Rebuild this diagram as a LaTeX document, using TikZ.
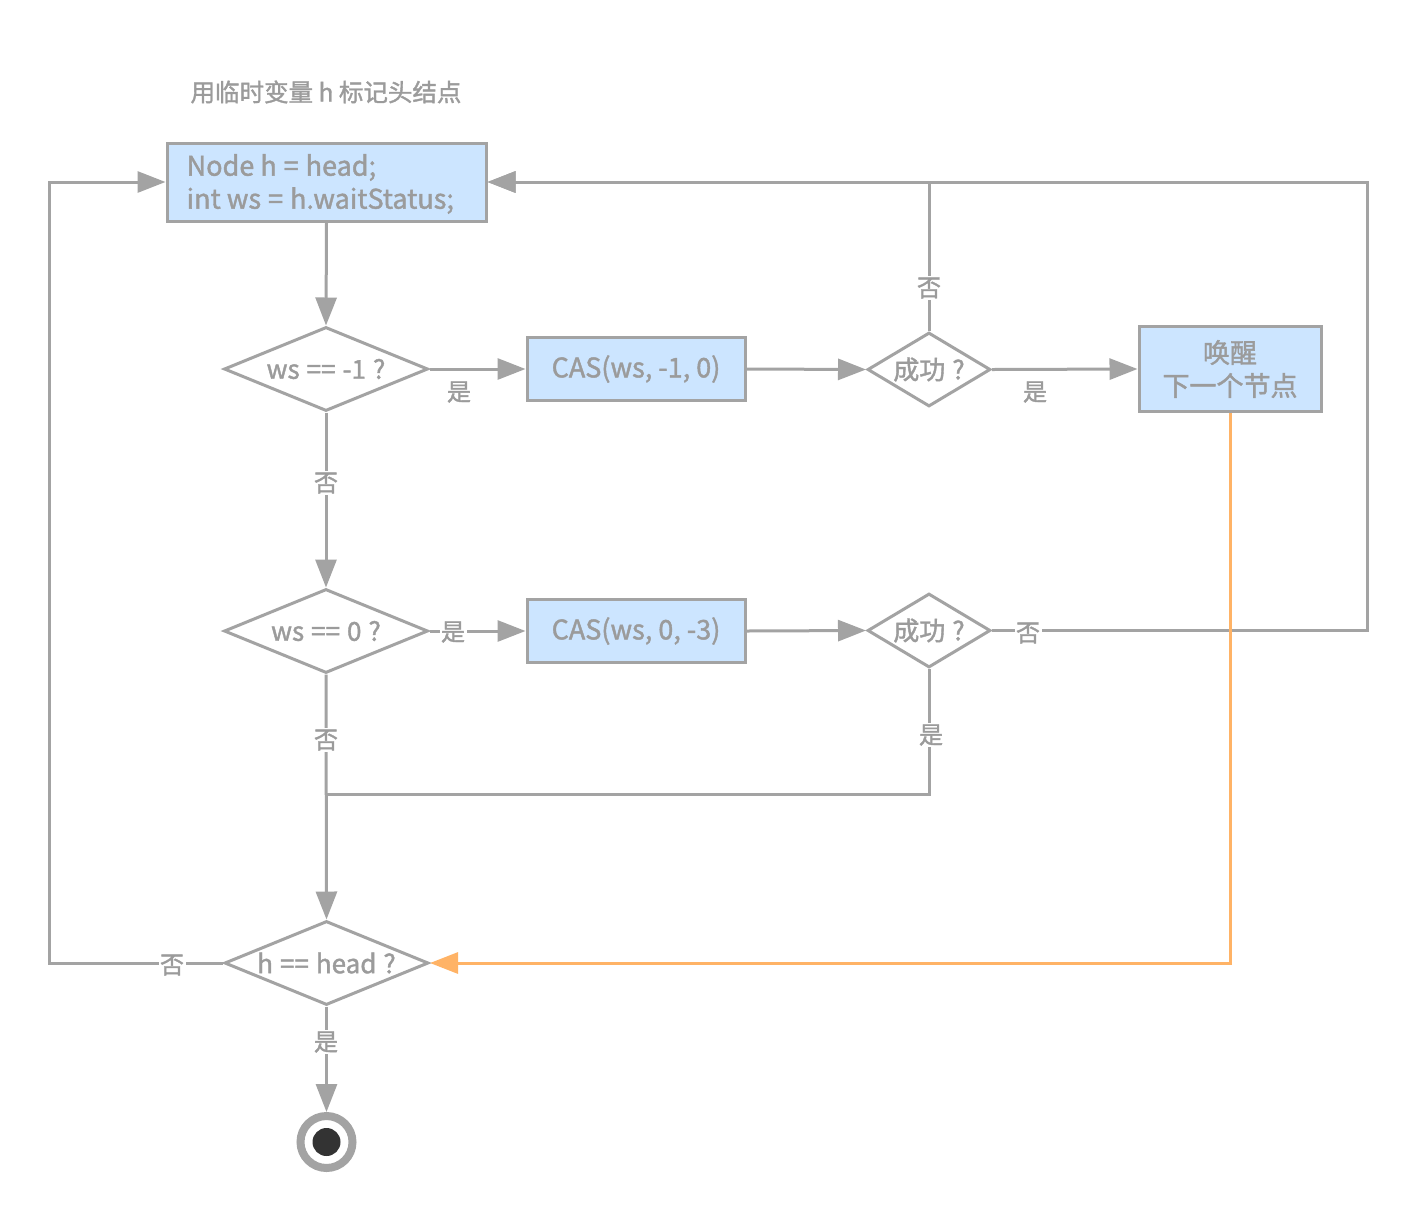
\documentclass[tikz,border=0pt]{standalone}
\usepackage{fontspec}
\setmainfont{Noto Sans CJK SC}[UprightFeatures={FakeBold=1.5}]
\usetikzlibrary{shapes.geometric,arrows.meta}
\definecolor{ln}{HTML}{A3A3A3}
\definecolor{tx}{HTML}{9B9B9B}
\definecolor{bx}{HTML}{CCE5FF}
\definecolor{og}{HTML}{FFB366}
\definecolor{dotc}{HTML}{333333}
\newcommand{\gp}{\hspace{7pt}}
\tikzset{
  boxn/.style={draw=ln, line width=3pt, fill=bx, text=tx, inner sep=0pt, align=center,
    font=\fontsize{27}{33}\selectfont},
  dia/.style={diamond, draw=ln, line width=3pt, fill=white, inner sep=0pt,
    minimum width=204pt, minimum height=84pt},
  sdia/.style={diamond, draw=ln, line width=3pt, fill=white, inner sep=0pt,
    minimum width=123pt, minimum height=74pt},
  dtext/.style={text=tx, inner sep=0pt, font=\fontsize{26}{26}\selectfont},
  lbl/.style={fill=white, text=tx, inner sep=1.5pt, font=\fontsize{24}{24}\selectfont},
  conn/.style={draw=ln, line width=3pt},
  arr/.style={conn, -{Triangle[length=28pt,width=21pt]}},
  oarr/.style={draw=og, line width=3pt, -{Triangle[length=28pt,width=21pt]}},
}
\begin{document}
\begin{tikzpicture}[x=1pt,y=-1pt]
\useasboundingbox (0,0) rectangle (1416,1219);
\fill[white] (0,0) rectangle (1416,1219);

\node[text=tx, font=\fontsize{24.5}{24.5}\selectfont] (cap) at (326,92) {用临时变量 h 标记头结点};

\node[boxn, minimum width=319pt, minimum height=78pt,
  label={[text=tx, align=left, anchor=west, xshift=21pt, yshift=-2pt, inner sep=0pt,
  font=\fontsize{27}{33}\selectfont]west:{Node h\gp=\gp head;\\int ws\gp=\gp h.waitStatus;}}] (b1) at (326.5,182) {};

\node[dia, label={[dtext]center:ws\gp==\gp-1\gp?}] (d1) at (326,369) {};
\node[boxn, minimum width=218pt, minimum height=63pt] (c1) at (636,369) {CAS(ws, -1, 0)};
\node[sdia, label={[dtext]center:成功\gp?}] (s1) at (929,369.5) {};
\node[boxn, minimum width=182pt, minimum height=85pt] (w1) at (1230,369) {唤醒\\下一个节点};

\node[dia, label={[dtext]center:ws\gp==\gp0\gp?}] (d2) at (326,631) {};
\node[boxn, minimum width=218pt, minimum height=63pt] (c2) at (636,631) {CAS(ws, 0, -3)};
\node[sdia, label={[dtext]center:成功\gp?}] (s2) at (929,630.5) {};

\node[dia, label={[dtext]center:h\gp==\gp head\gp?}] (d3) at (326.5,963) {};

\node[circle, draw=ln, line width=8pt, fill=white, minimum size=52pt, inner sep=0pt] (e) at (326.5,1142) {};
\node[circle, fill=dotc, minimum size=28pt, inner sep=0pt] (e2) at (e.center) {};

\coordinate (rr) at (1367,182);
\coordinate (ll) at (49,182);
\coordinate (mm) at (326,794);

\draw[arr] (b1.south) -- (d1.north);
\draw[arr] (d1.east) -- (c1.west);
\draw[arr] (c1.east) -- (s1.west);
\draw[arr] (s1.east) -- (w1.west);
\draw[arr] (s1.north) |- (b1.east);
\draw[arr] (d1.south) -- (d2.north);
\draw[arr] (d2.east) -- (c2.west);
\draw[arr] (c2.east) -- (s2.west);
\draw[arr] (s2.east) -| (rr) -- (b1.east);
\draw[conn] (s2.south) |- (mm);
\draw[arr] (d2.south) -- (d3.north);
\draw[oarr] (w1.south) |- (d3.east);
\draw[arr] (d3.west) -| (ll) -- (b1.west);
\draw[arr] (d3.south) -- (e.north);

\node[lbl, fill=none] (l1) at (459,392) {是};
\node[lbl, fill=none] (l2) at (1035,392) {是};
\node[lbl] (l3) at (929,288) {否};
\node[lbl] (l4) at (326,483) {否};
\node[lbl] (l5) at (453,632) {是};
\node[lbl] (l6) at (1028,633) {否};
\node[lbl] (l7) at (931,735) {是};
\node[lbl] (l8) at (326,740) {否};
\node[lbl] (l9) at (172,965) {否};
\node[lbl] (l10) at (326,1042) {是};
\end{tikzpicture}
\end{document}
